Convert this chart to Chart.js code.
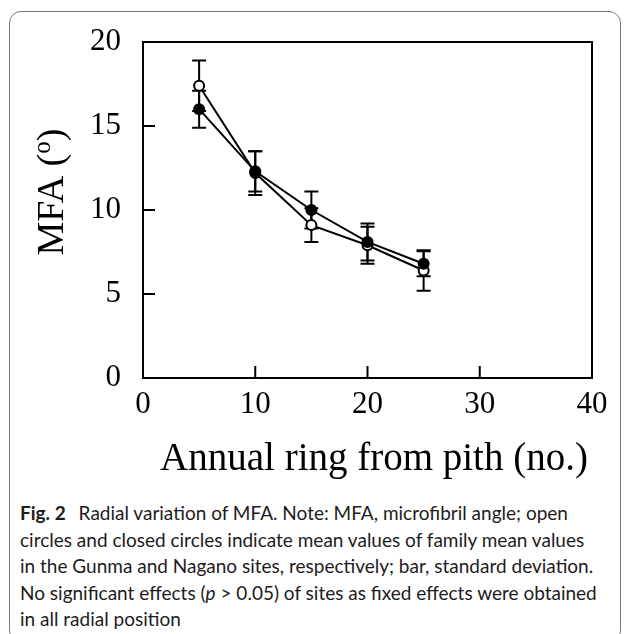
<!DOCTYPE html>
<html>
<head>
<meta charset="utf-8">
<script src="https://cdn.jsdelivr.net/npm/chart.js@4.4.1/dist/chart.umd.min.js"></script>
<style>
  html, body { margin: 0; padding: 0; background: #fff; }
  body { width: 630px; height: 634px; position: relative; overflow: hidden; }
  #frame { position: absolute; left: 9px; top: 11px; width: 612px; height: 632px; border: 1.5px solid #7a7a7a; border-radius: 12px; box-sizing: border-box; }
  #chart { position: absolute; left: 0; top: 0; }
  #caption { position: absolute; left: 20px; top: 500px; font-family: Lato, "Noto Sans", sans-serif; font-size: 19px; line-height: 26.5px; color: #1e1b1c; white-space: nowrap; }
  #caption b { font-weight: 700; margin-right: 8px; }
</style>
</head>
<body>
<div id="frame"></div>
<canvas id="chart" width="630" height="480"></canvas>
<div id="caption">
  <b>Fig. 2</b> Radial variation of MFA. Note: MFA, microfibril angle; open<br>
  circles and closed circles indicate mean values of family mean values<br>
  in the Gunma and Nagano sites, respectively; bar, standard deviation.<br>
  No significant effects (<i>p</i> &gt; 0.05) of sites as fixed effects were obtained<br>
  in all radial position
</div>
<script>
// annual ring number from pith
const rings = [5, 10, 15, 20, 25]
// open circles = Gunma, closed circles = Nagano
const gunmaMean = [17.4, 12.2, 9.1, 7.9, 6.4]
const gunmaSD = [1.5, 1.3, 1.0, 1.1, 1.2]
const naganoMean = [16.0, 12.3, 10.0, 8.1, 6.8]
const naganoSD = [1.1, 1.2, 1.1, 1.1, 0.75]
const xTicks = [0, 10, 20, 30, 40]
const yTicks = [0, 5, 10, 15, 20]

const serif = "'Liberation Serif', 'Times New Roman', serif"

// error bars, frame box, inward ticks and the axis titles (y has a raised "o")
const extras = {
  id: 'extras',
  beforeDatasetsDraw(chart) {
    const { ctx, scales: { x, y } } = chart
    ctx.save()
    ctx.strokeStyle = '#000'
    ctx.lineWidth = 2
    chart.data.datasets.forEach(ds => {
      ds.data.forEach((p, j) => {
        const px = x.getPixelForValue(p.x)
        const top = y.getPixelForValue(p.y + ds.sd[j])
        const bot = y.getPixelForValue(p.y - ds.sd[j])
        ctx.beginPath()
        ctx.moveTo(px, top); ctx.lineTo(px, bot)
        ctx.moveTo(px - 7, top); ctx.lineTo(px + 7, top)
        ctx.moveTo(px - 7, bot); ctx.lineTo(px + 7, bot)
        ctx.stroke()
      })
    })
    ctx.restore()
  },
  afterDraw(chart) {
    const { ctx, chartArea: a, scales: { x, y } } = chart
    ctx.save()
    ctx.strokeStyle = '#000'
    ctx.lineWidth = 2
    ctx.strokeRect(a.left, a.top, a.right - a.left, a.bottom - a.top)
    ctx.beginPath()
    x.ticks.forEach(t => {
      if (t.value === x.min || t.value === x.max) return
      const px = x.getPixelForValue(t.value)
      ctx.moveTo(px, a.bottom); ctx.lineTo(px, a.bottom - 12)
    })
    y.ticks.forEach(t => {
      if (t.value === y.min || t.value === y.max) return
      const py = y.getPixelForValue(t.value)
      ctx.moveTo(a.left, py); ctx.lineTo(a.left + 12, py)
    })
    ctx.stroke()

    ctx.fillStyle = '#000'
    ctx.textBaseline = 'alphabetic'

    // x axis title
    ctx.font = '39px ' + serif
    ctx.textAlign = 'center'
    ctx.fillText('Annual ring from pith (no.)', 374, 470)
    ctx.textAlign = 'left'

    // y axis title
    ctx.translate(63, 192)
    ctx.rotate(-Math.PI / 2)
    const big = '38px ' + serif, small = '25px ' + serif
    ctx.font = big
    const w1 = ctx.measureText('MFA (').width
    const w3 = ctx.measureText(')').width
    ctx.font = small
    const w2 = ctx.measureText('o').width
    let sx = -(w1 + w2 + w3) / 2
    ctx.font = big
    ctx.fillText('MFA (', sx, 0)
    ctx.font = small
    ctx.fillText('o', sx + w1, -13)
    ctx.font = big
    ctx.fillText(')', sx + w1 + w2, 0)
    ctx.restore()
  }
}

new Chart(document.getElementById('chart'), {
  type: 'scatter',
  data: {
    datasets: [
      {
        label: 'Gunma',
        data: rings.map((r, i) => ({ x: r, y: gunmaMean[i] })),
        sd: gunmaSD,
        order: 1,
        showLine: true,
        borderColor: '#000',
        borderWidth: 2,
        pointRadius: 5,
        pointBorderWidth: 2,
        pointBorderColor: '#000',
        pointBackgroundColor: '#fff'
      },
      {
        label: 'Nagano',
        data: rings.map((r, i) => ({ x: r, y: naganoMean[i] })),
        sd: naganoSD,
        order: 0,
        showLine: true,
        borderColor: '#000',
        borderWidth: 2,
        pointRadius: 5,
        pointBorderWidth: 2,
        pointBorderColor: '#000',
        pointBackgroundColor: '#000'
      }
    ]
  },
  options: {
    responsive: false,
    animation: false,
    devicePixelRatio: 1,
    layout: { padding: { left: 0, top: 42, right: 38, bottom: 0 } },
    plugins: { legend: { display: false }, tooltip: { enabled: false } },
    scales: {
      x: {
        type: 'linear',
        min: 0, max: 40,
        afterBuildTicks: s => { s.ticks = xTicks.map(v => ({ value: v })) },
        afterFit: s => { s.height = 102 },
        grid: { display: false },
        border: { display: false },
        ticks: { color: '#000', padding: 0, maxRotation: 0, font: { family: serif, size: 31 } }
      },
      y: {
        min: 0, max: 20,
        afterBuildTicks: s => { s.ticks = yTicks.map(v => ({ value: v })) },
        afterFit: s => { s.width = 143 },
        grid: { display: false },
        border: { display: false },
        ticks: { color: '#000', padding: 14, font: { family: serif, size: 31 } }
      }
    }
  },
  plugins: [extras]
})
</script>
</body>
</html>
